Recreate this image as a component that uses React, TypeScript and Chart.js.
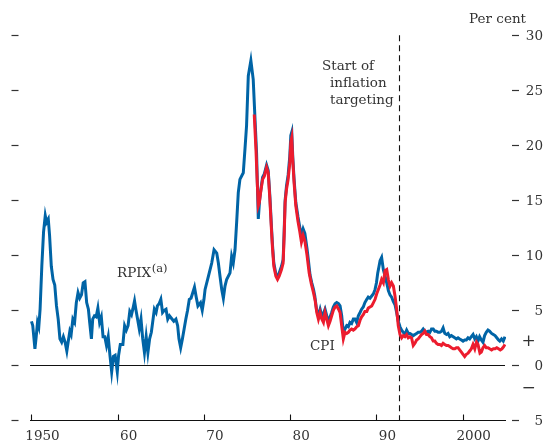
import React, { useEffect, useRef } from "react";
import { Chart, registerables } from "chart.js";

Chart.register(...registerables);

// RPIX (a), per cent, by year
const rpixDates = [
  1950.0, 1950.15, 1950.4, 1950.55, 1950.7, 1950.85, 1951.0, 1951.2, 1951.4, 1951.6, 1951.75, 1951.95,
  1952.1, 1952.3, 1952.5, 1952.7, 1952.9, 1953.1, 1953.3, 1953.5, 1953.7, 1953.9, 1954.1, 1954.25,
  1954.45, 1954.6, 1954.8, 1955.0, 1955.2, 1955.4, 1955.6, 1955.8, 1956.0, 1956.2, 1956.4, 1956.6,
  1956.75, 1956.95, 1957.1, 1957.3, 1957.5, 1957.7, 1957.9, 1958.1, 1958.3, 1958.5, 1958.7, 1958.9,
  1959.1, 1959.3, 1959.5, 1959.7, 1959.95, 1960.1, 1960.3, 1960.6, 1960.8, 1961.0, 1961.2, 1961.4,
  1961.6, 1961.75, 1961.95, 1962.1, 1962.3, 1962.5, 1962.7, 1962.9, 1963.1, 1963.3, 1963.5, 1963.7,
  1963.9, 1964.05, 1964.25, 1964.45, 1964.6, 1964.8, 1965.0, 1965.2, 1965.4, 1965.6, 1965.8, 1966.0,
  1966.2, 1966.5, 1966.75, 1966.95, 1967.1, 1967.3, 1967.5, 1967.7, 1967.9, 1968.1, 1968.3, 1968.5,
  1968.7, 1968.9, 1969.1, 1969.3, 1969.6, 1969.8, 1970.0, 1970.13, 1970.52, 1970.9, 1971.17, 1971.48,
  1971.67, 1971.86, 1972.06, 1972.25, 1972.44, 1972.63, 1973.02, 1973.21, 1973.4, 1973.6, 1973.79, 1973.98,
  1974.17, 1974.56, 1974.75, 1974.94, 1975.14, 1975.44, 1975.71, 1975.9, 1976.1, 1976.3, 1976.45, 1976.6,
  1976.8, 1977.0, 1977.26, 1977.45, 1977.64, 1977.84, 1977.95, 1978.1, 1978.34, 1978.53, 1978.72, 1978.99,
  1979.18, 1979.3, 1979.41, 1979.57, 1979.76, 1979.95, 1980.07, 1980.18, 1980.3, 1980.45, 1980.65, 1980.9,
  1981.1, 1981.3, 1981.5, 1981.7, 1981.95, 1982.1, 1982.3, 1982.5, 1982.7, 1982.85, 1983.05, 1983.27,
  1983.47, 1983.66, 1983.85, 1984.04, 1984.24, 1984.43, 1984.62, 1984.81, 1985.0, 1985.2, 1985.39, 1985.6,
  1985.78, 1985.97, 1986.16, 1986.35, 1986.55, 1986.74, 1986.93, 1987.12, 1987.32, 1987.51, 1987.7, 1987.9,
  1988.1, 1988.28, 1988.47, 1988.66, 1988.88, 1989.05, 1989.25, 1989.45, 1989.65, 1989.84, 1990.0, 1990.15,
  1990.3, 1990.42, 1990.6, 1990.8, 1991.0, 1991.19, 1991.38, 1991.57, 1991.76, 1991.95, 1992.15, 1992.34,
  1992.53, 1992.73, 1992.92, 1993.11, 1993.3, 1993.5, 1993.7, 1993.88, 1994.07, 1994.27, 1994.46, 1994.65,
  1994.84, 1995.04, 1995.23, 1995.42, 1995.61, 1995.8, 1996.0, 1996.19, 1996.38, 1996.58, 1996.77, 1996.96,
  1997.15, 1997.35, 1997.55, 1997.73, 1997.92, 1998.12, 1998.3, 1998.5, 1998.69, 1998.9, 1999.08, 1999.27,
  1999.46, 1999.65, 1999.85, 2000.04, 2000.23, 2000.42, 2000.62, 2000.81, 2001.0, 2001.2, 2001.4, 2001.58,
  2001.77, 2001.96, 2002.16, 2002.35, 2002.54, 2002.73, 2002.93, 2003.12, 2003.35, 2003.55, 2003.75, 2003.95,
  2004.15, 2004.3, 2004.5, 2004.7, 2004.9,
];
const rpixValues = [
  4.0, 3.6, 1.5, 2.6, 3.9, 3.5, 5.1, 9.0, 12.1, 13.6, 13.0, 13.3,
  11.8, 9.0, 7.8, 7.3, 5.4, 4.2, 2.4, 2.1, 2.6, 2.1, 1.3, 2.1,
  3.1, 2.8, 4.2, 3.9, 5.7, 6.6, 6.1, 6.4, 7.5, 7.6, 5.7, 5.1,
  3.9, 2.4, 4.2, 4.5, 4.4, 5.2, 3.9, 4.4, 2.6, 2.6, 1.8, 2.6,
  0.9, -0.6, 0.8, 0.9, -0.6, 0.9, 1.9, 1.9, 3.6, 3.2, 3.6, 4.9,
  4.6, 5.1, 5.85, 5.1, 4.2, 3.3, 4.2, 2.4, 1.15, 2.6, 1.15, 2.4,
  3.0, 3.9, 5.1, 4.8, 5.4, 5.6, 6.0, 4.8, 5.0, 5.1, 4.2, 4.5,
  4.3, 4.0, 4.2, 3.6, 2.4, 1.6, 2.4, 3.3, 4.2, 5.0, 6.0, 6.1,
  6.6, 7.1, 6.2, 5.4, 5.7, 5.0, 6.0, 6.9, 8.1, 9.3, 10.5, 10.2,
  9.3, 8.1, 6.9, 6.1, 7.2, 7.8, 8.4, 9.9, 9.3, 10.5, 13.0, 15.7,
  16.9, 17.5, 19.6, 21.8, 26.3, 27.7, 26.0, 22.7, 19.3, 13.3, 15.0, 16.0,
  17.1, 17.4, 18.2, 17.7, 15.4, 12.4, 10.9, 9.3, 8.3, 8.0, 8.4, 9.0,
  9.6, 12.2, 15.0, 16.3, 17.3, 19.0, 20.9, 21.2, 18.9, 16.9, 14.8, 13.5,
  12.6, 11.8, 12.4, 12.0, 10.6, 9.6, 8.2, 7.5, 6.9, 6.3, 5.1, 4.5,
  5.1, 4.5, 4.7, 5.1, 4.5, 3.9, 4.4, 4.8, 5.3, 5.6, 5.7, 5.6,
  5.4, 4.5, 3.0, 3.3, 3.6, 3.5, 3.9, 3.8, 4.2, 4.2, 3.9, 4.5,
  4.8, 5.1, 5.3, 5.7, 6.0, 6.2, 6.1, 6.3, 6.5, 6.9, 7.5, 8.4,
  9.0, 9.5, 9.8, 8.7, 8.1, 7.5, 6.8, 6.4, 6.2, 5.8, 5.5, 4.8,
  4.0, 3.5, 3.2, 3.0, 2.8, 3.2, 2.9, 2.9, 2.8, 2.7, 2.8, 2.9,
  3.0, 3.0, 3.1, 3.3, 3.1, 3.0, 3.1, 3.0, 3.3, 3.3, 3.1, 3.1,
  3.0, 3.0, 3.1, 3.4, 2.9, 2.8, 2.9, 2.6, 2.7, 2.6, 2.5, 2.4,
  2.5, 2.4, 2.3, 2.2, 2.3, 2.3, 2.5, 2.4, 2.6, 2.8, 2.4, 2.6,
  2.2, 2.6, 2.3, 2.1, 2.7, 3.0, 3.2, 3.1, 2.9, 2.8, 2.7, 2.5,
  2.3, 2.2, 2.4, 2.2, 2.6,
];

// CPI, per cent, by year
const cpiDates = [
  1975.83, 1976.03, 1976.18, 1976.3, 1976.42, 1976.57, 1976.8, 1977.0, 1977.26, 1977.45, 1977.64, 1977.84,
  1977.95, 1978.1, 1978.34, 1978.53, 1978.72, 1978.99, 1979.18, 1979.3, 1979.41, 1979.57, 1979.76, 1979.95,
  1980.07, 1980.18, 1980.3, 1980.45, 1980.65, 1980.9, 1981.1, 1981.3, 1981.5, 1981.7, 1981.95, 1982.2,
  1982.45, 1982.7, 1982.89, 1983.08, 1983.27, 1983.47, 1983.66, 1983.85, 1984.04, 1984.24, 1984.43, 1984.62,
  1984.81, 1985.0, 1985.2, 1985.39, 1985.6, 1985.78, 1985.97, 1986.16, 1986.35, 1986.55, 1986.74, 1986.93,
  1987.12, 1987.32, 1987.51, 1987.7, 1987.9, 1988.1, 1988.28, 1988.47, 1988.66, 1988.88, 1989.05, 1989.25,
  1989.45, 1989.65, 1989.84, 1990.03, 1990.22, 1990.42, 1990.6, 1990.8, 1991.0, 1991.19, 1991.38, 1991.57,
  1991.76, 1991.96, 1992.15, 1992.34, 1992.53, 1992.73, 1992.92, 1993.11, 1993.3, 1993.5, 1993.69, 1993.88,
  1994.07, 1994.27, 1994.46, 1994.65, 1994.84, 1995.04, 1995.23, 1995.42, 1995.61, 1995.8, 1996.0, 1996.19,
  1996.38, 1996.58, 1996.77, 1996.96, 1997.15, 1997.35, 1997.54, 1997.73, 1997.92, 1998.12, 1998.3, 1998.5,
  1998.69, 1998.9, 1999.08, 1999.27, 1999.46, 1999.65, 1999.85, 2000.04, 2000.23, 2000.42, 2000.62, 2000.81,
  2001.0, 2001.2, 2001.4, 2001.6, 2001.77, 2002.0, 2002.16, 2002.35, 2002.54, 2002.73, 2002.93, 2003.12,
  2003.35, 2003.55, 2003.75, 2003.95, 2004.15, 2004.35, 2004.55, 2004.75, 2004.9,
];
const cpiValues = [
  22.8, 19.6, 16.6, 14.5, 14.8, 15.7, 16.9, 17.2, 18.0, 17.5, 15.1, 12.1,
  10.6, 9.0, 8.1, 7.8, 8.1, 8.7, 9.3, 11.8, 14.8, 16.0, 16.9, 18.4,
  20.3, 20.7, 18.6, 16.6, 14.5, 13.1, 12.2, 11.2, 11.8, 11.3, 10.0, 8.4,
  7.4, 6.6, 5.9, 4.8, 4.2, 4.8, 4.2, 3.9, 4.8, 4.2, 3.6, 4.0,
  4.5, 5.0, 5.3, 5.4, 5.1, 4.8, 3.6, 2.4, 3.0, 2.9, 3.0, 3.2,
  3.3, 3.2, 3.3, 3.5, 3.6, 4.1, 4.4, 4.6, 4.9, 4.9, 5.2, 5.3,
  5.4, 5.7, 6.0, 6.5, 6.9, 7.3, 7.8, 7.5, 8.6, 8.7, 7.8, 7.2,
  7.5, 7.2, 6.3, 5.1, 3.6, 2.8, 2.5, 2.7, 2.6, 2.8, 2.5, 2.6,
  2.5, 1.8, 2.0, 2.3, 2.4, 2.6, 2.8, 2.9, 3.1, 2.8, 2.8, 2.6,
  2.5, 2.2, 2.2, 2.0, 1.9, 1.9, 1.8, 2.0, 1.9, 1.8, 1.8, 1.7,
  1.6, 1.5, 1.5, 1.6, 1.6, 1.4, 1.2, 1.0, 0.8, 1.0, 1.1, 1.3,
  1.5, 1.9, 1.5, 2.1, 1.9, 1.1, 1.2, 1.6, 1.8, 1.6, 1.6, 1.5,
  1.4, 1.5, 1.5, 1.6, 1.5, 1.4, 1.5, 1.7, 1.9,
];

const yTickValues = [30, 25, 20, 15, 10, 5, 0, -5];
const yTickLabels = ["30", "25", "20", "15", "10", "5", "0", "5"];
const xTickYears = [1950, 1960, 1970, 1980, 1990, 2000];
const xTickLabels = ["1950", "60", "70", "80", "90", "2000"];
const targetingStart = 1992.6;
const annotationLines = ["Start of", "inflation", "targeting"];

const BLUE = "#0064a6";
const RED = "#ec1c2e";
const INK = "#333333";
const FONT = '13.5px "DejaVu Serif"';

const decorPlugin = {
  id: "decor",
  beforeDatasetsDraw(chart: any) {
    const { ctx, chartArea } = chart;
    const x = chart.scales.x;
    const y = chart.scales.y;
    ctx.save();
    ctx.strokeStyle = "#111";
    ctx.lineWidth = 1.1;
    const y0 = Math.round(y.getPixelForValue(0)) + 0.5;
    ctx.beginPath();
    ctx.moveTo(chartArea.left, y0);
    ctx.lineTo(chartArea.right - 1, y0);
    ctx.stroke();
    const xd = Math.round(x.getPixelForValue(targetingStart)) + 0.5;
    ctx.setLineDash([6, 4]);
    ctx.beginPath();
    ctx.moveTo(xd, y.getPixelForValue(30));
    ctx.lineTo(xd, chartArea.bottom);
    ctx.stroke();
    ctx.restore();
  },
  afterDraw(chart: any) {
    const { ctx, chartArea } = chart;
    const x = chart.scales.x;
    const y = chart.scales.y;
    ctx.save();
    // bottom axis
    ctx.strokeStyle = "#111";
    ctx.lineWidth = 1.1;
    const yb = Math.round(chartArea.bottom) + 0.5;
    ctx.beginPath();
    ctx.moveTo(chartArea.left, yb);
    ctx.lineTo(chartArea.right, yb);
    ctx.stroke();
    xTickYears.forEach((yr) => {
      const px = Math.round(x.getPixelForValue(yr)) + 0.5;
      ctx.beginPath();
      ctx.moveTo(px, yb);
      ctx.lineTo(px, yb - 6);
      ctx.stroke();
    });
    // side ticks
    ctx.strokeStyle = INK;
    ctx.lineWidth = 1.2;
    yTickValues.forEach((v) => {
      const py = Math.round(y.getPixelForValue(v)) + 0.5;
      ctx.beginPath();
      ctx.moveTo(11.5, py);
      ctx.lineTo(18.5, py);
      ctx.stroke();
      ctx.beginPath();
      ctx.moveTo(512, py);
      ctx.lineTo(519, py);
      ctx.stroke();
    });
    ctx.fillStyle = INK;
    ctx.font = FONT;
    ctx.textAlign = "right";
    ctx.textBaseline = "alphabetic";
    yTickValues.forEach((v, i) => {
      const py = y.getPixelForValue(v);
      ctx.fillText(yTickLabels[i], 543, py + 5);
    });
    ctx.textAlign = "center";
    xTickYears.forEach((yr, i) => {
      const px = x.getPixelForValue(yr);
      ctx.fillText(xTickLabels[i], px + 11, 439.5);
    });
    // sign markers
    ctx.font = '17px "DejaVu Serif"';
    ctx.textBaseline = "middle";
    ctx.fillText("+", 528.5, y.getPixelForValue(2.2) + 0.5);
    ctx.fillText("\u2212", 528.5, y.getPixelForValue(-2.05) + 0.5);
    // texts
    ctx.font = FONT;
    ctx.textBaseline = "alphabetic";
    ctx.textAlign = "right";
    ctx.fillText("Per cent", 526, 23);
    ctx.textAlign = "left";
    ctx.fillText(annotationLines[0], 322, 70);
    ctx.fillText(annotationLines[1], 330, 87);
    ctx.fillText(annotationLines[2], 330, 103.5);
    ctx.fillText("RPIX", 117, 277);
    const w = ctx.measureText("RPIX").width;
    ctx.font = '11.5px "DejaVu Serif"';
    ctx.fillText("(a)", 117 + w + 0.5, 272);
    ctx.font = FONT;
    ctx.fillText("CPI", 310, 350);
    ctx.restore();
  },
};

export default function App() {
  const canvasRef = useRef<HTMLCanvasElement | null>(null);
  useEffect(() => {
    if (!canvasRef.current) return;
    const chart = new Chart(canvasRef.current, {
      type: "line",
      data: {
        datasets: [
          {
            label: "CPI",
            data: cpiDates.map((d, i) => ({ x: d, y: cpiValues[i] })),
            borderColor: RED,
            borderWidth: 3,
            pointRadius: 0,
            tension: 0,
            order: 0,
          },
          {
            label: "RPIX",
            data: rpixDates.map((d, i) => ({ x: d, y: rpixValues[i] })),
            borderColor: BLUE,
            borderWidth: 3,
            pointRadius: 0,
            tension: 0,
            order: 1,
          },
        ],
      },
      options: {
        responsive: false,
        animation: false,
        devicePixelRatio: 1,
        layout: { padding: { left: 30, right: 41, top: 35.3, bottom: 20.7 } },
        scales: {
          x: { type: "linear", min: 1949.83, max: 2005.02, display: false },
          y: { type: "linear", min: -5, max: 30, display: false },
        },
        plugins: { legend: { display: false }, tooltip: { enabled: false } },
      },
      plugins: [decorPlugin],
    });
    return () => chart.destroy();
  }, []);
  return (
    <div style={{ position: "fixed", left: 0, top: 0, width: 547, height: 441, background: "#fff" }}>
      <canvas ref={canvasRef} width={547} height={441} style={{ width: 547, height: 441, display: "block" }} />
    </div>
  );
}
